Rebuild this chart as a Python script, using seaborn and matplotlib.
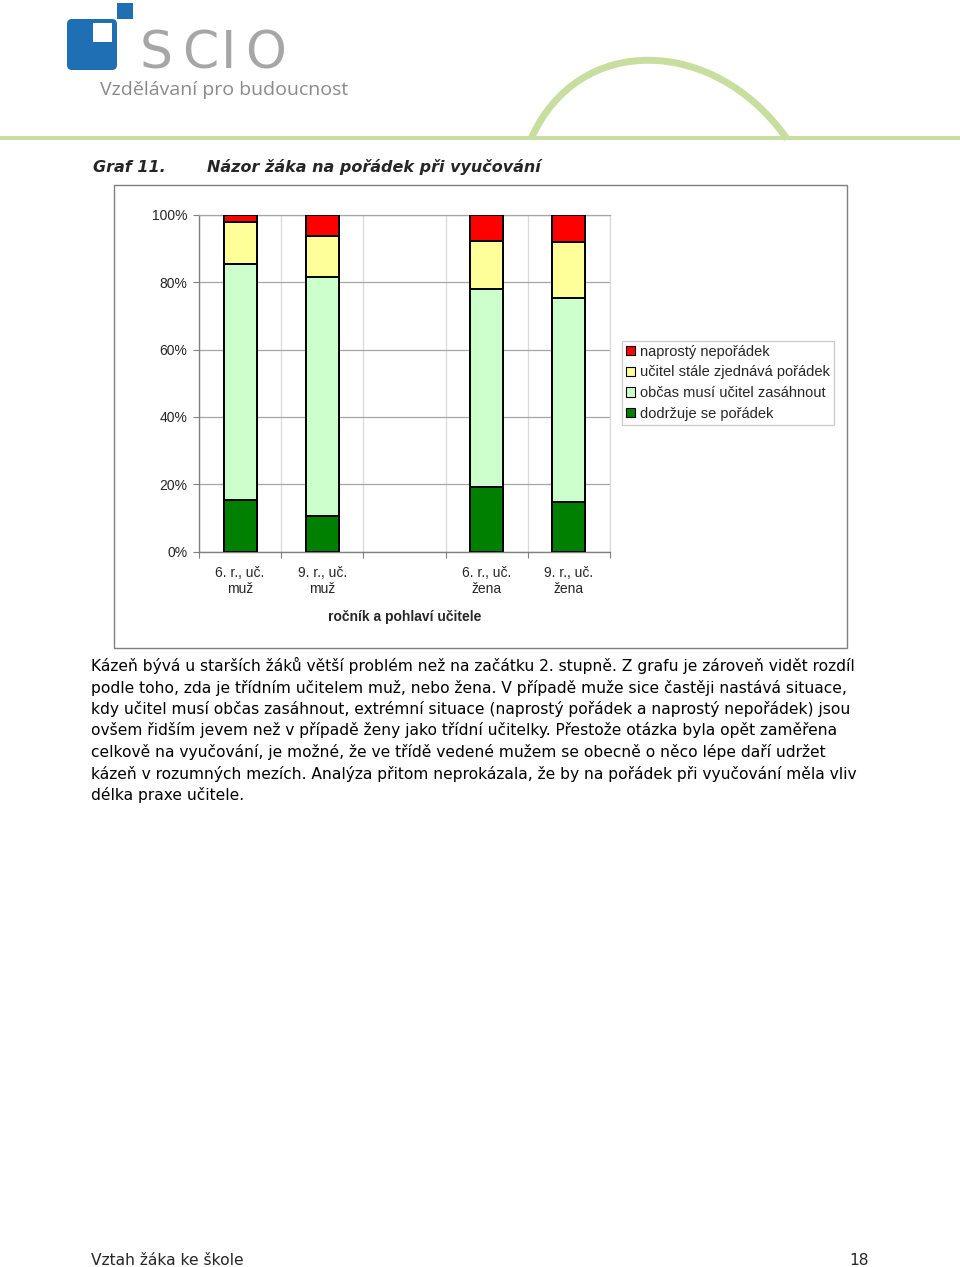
import matplotlib
matplotlib.use("Agg")
import matplotlib.pyplot as plt
import seaborn as sns
import pandas as pd
from matplotlib.patches import Rectangle, FancyBboxPatch, Patch, PathPatch
from matplotlib.path import Path

# ---------------- data ----------------
categories = ["6. r., uč.\nmuž", "9. r., uč.\nmuž", "", "6. r., uč.\nžena", "9. r., uč.\nžena"]
data_categories = ["6. r., uč.\nmuž", "9. r., uč.\nmuž", "6. r., uč.\nžena", "9. r., uč.\nžena"]
dodrzuje = [15.3, 10.7, 19.1, 14.8]
obcas = [70.0, 70.9, 58.9, 60.4]
ucitel = [12.5, 12.1, 14.3, 16.6]
naprosty = [2.2, 6.3, 7.7, 8.2]
series_names = ["naprostý nepořádek", "učitel stále zjednává pořádek",
                "občas musí učitel zasáhnout", "dodržuje se pořádek"]
series_colors = ["#FF0000", "#FFFF99", "#CCFFCC", "#008000"]
yticks = [0, 20, 40, 60, 80, 100]
ytick_labels = ["0%", "20%", "40%", "60%", "80%", "100%"]
x_label = "ročník a pohlaví učitele"
title_num = "Graf 11."
title_text = "Názor žáka na pořádek při vyučování"
body_lines = [
    "Kázeň bývá u starších žáků větší problém než na začátku 2. stupně. Z grafu je zároveň vidět rozdíl",
    "podle toho, zda je třídním učitelem muž, nebo žena. V případě muže sice častěji nastává situace,",
    "kdy učitel musí občas zasáhnout, extrémní situace (naprostý pořádek a naprostý nepořádek) jsou",
    "ovšem řidším jevem než v případě ženy jako třídní učitelky. Přestože otázka byla opět zaměřena",
    "celkově na vyučování, je možné, že ve třídě vedené mužem se obecně o něco lépe daří udržet",
    "kázeň v rozumných mezích. Analýza přitom neprokázala, že by na pořádek při vyučování měla vliv",
    "délka praxe učitele.",
]
footer_left = "Vztah žáka ke škole"
footer_right = "18"
logo_letters = ["S", "C", "I", "O"]
logo_tagline = "Vzdělávaní pro budoucnost"

# ---------------- figure ----------------
sns.set_theme(style="white")
plt.rcParams["font.family"] = ["Liberation Sans", "DejaVu Sans"]
W, H = 960, 1267
fig = plt.figure(figsize=(W / 100, H / 100), dpi=100)
fig.patch.set_facecolor("white")

# background/decoration axes in pixel coordinates
bg = fig.add_axes([0, 0, 1, 1], zorder=0)
bg.set_xlim(0, W)
bg.set_ylim(H, 0)
bg.axis("off")

# logo
blue = "#1E6FB4"
bg.add_patch(FancyBboxPatch((67, 19), 50, 51, boxstyle="round,pad=0,rounding_size=5",
                            facecolor=blue, edgecolor="none"))
bg.add_patch(Rectangle((93, 23), 19, 19, facecolor="white", edgecolor="none"))
bg.add_patch(Rectangle((117, 3), 16, 16, facecolor=blue, edgecolor="none"))
for letter, cx in zip(logo_letters, [156, 200, 229, 266]):
    bg.text(cx, 68.5, letter, fontsize=37.5, color="#A6A6A6", va="baseline", ha="center",
            family=["DejaVu Sans"])
bg.text(100, 95, logo_tagline, fontsize=14, color="#8A8A8A", va="baseline", ha="left",
        family=["Open Sans", "DejaVu Sans"])
green = "#C7DE9F"
bg.plot([0, W], [138, 138], color=green, lw=2.8, solid_capstyle="butt")
arc = Path([(531, 139), (578, 32), (715, 36), (787, 139)],
           [Path.MOVETO, Path.CURVE4, Path.CURVE4, Path.CURVE4])
bg.add_patch(PathPatch(arc, facecolor="none", edgecolor=green, lw=5))

# title
tfont = ["DejaVu Sans"]
bg.text(93, 172, title_num, fontsize=11.5, fontweight="bold", fontstyle="italic",
        family=tfont, va="baseline", ha="left")
bg.text(207, 172, title_text, fontsize=11.5, fontweight="bold", fontstyle="italic",
        family=tfont, va="baseline", ha="left")

# chart frame
bg.add_patch(Rectangle((113.5, 184.5), 733, 463, facecolor="white", edgecolor="#7F7F7F", lw=1.0))

# body text
bfont = ["DejaVu Sans"]
y0 = 671
for i, line in enumerate(body_lines):
    bg.text(91, y0 + i * 21.5, line, fontsize=11.2, family=bfont, va="baseline", ha="left",
            color="black")
bg.text(91, 1265, footer_left, fontsize=11.2, family=bfont, va="baseline", ha="left")
bg.text(869, 1265, footer_right, fontsize=11.2, family=bfont, va="baseline", ha="right")

# ---------------- chart ----------------
ax = fig.add_axes([199 / W, (H - 551.7) / H, 411 / W, 337 / H], zorder=2)
ax.set_facecolor("white")

df = pd.DataFrame({"kategorie": data_categories, "dodrzuje": dodrzuje, "obcas": obcas,
                   "ucitel": ucitel, "naprosty": naprosty})
df["c1"] = df["dodrzuje"]
df["c2"] = df["c1"] + df["obcas"]
df["c3"] = df["c2"] + df["ucitel"]
df["c4"] = df["c3"] + df["naprosty"]

for col, color in zip(["c4", "c3", "c2", "c1"], series_colors):
    sns.barplot(data=df, x="kategorie", y=col, order=categories, color=color,
                saturation=1, edgecolor="black", linewidth=1.4, width=0.4, ax=ax, zorder=3)

fs = 10
ax.set_xlim(-0.5, 4.5)
ax.set_ylim(0, 100)
ax.set_yticks(yticks)
ax.set_yticklabels(ytick_labels, fontsize=fs)
ax.set_xticks(range(len(categories)))
ax.set_xticklabels(categories, fontsize=fs, linespacing=1.2)
ax.set_xticks([-0.5, 0.5, 1.5, 2.5, 3.5, 4.5], minor=True)
ax.tick_params(axis="x", which="major", length=0, pad=10)
ax.tick_params(axis="x", which="minor", length=4.5, direction="out", color="#808080", width=0.8,
               bottom=True)
ax.tick_params(axis="y", which="major", length=4.5, direction="out", color="#808080", width=0.8,
               pad=4, left=True)
ax.set_xlabel(x_label, fontsize=fs, fontweight="bold", labelpad=10)
ax.set_ylabel("")
ax.grid(False)
ax.yaxis.grid(True, color="#A6A6A6", lw=0.9, zorder=0)
ax.xaxis.grid(True, which="minor", color="#D9D9D9", lw=0.9, zorder=0)
ax.set_axisbelow(True)
for side in ["left", "bottom"]:
    ax.spines[side].set_color("#808080")
    ax.spines[side].set_linewidth(1.0)
ax.spines["top"].set_color("#A6A6A6")
ax.spines["top"].set_linewidth(0.9)
ax.spines["right"].set_color("#D9D9D9")
ax.spines["right"].set_linewidth(0.9)

handles = [Patch(facecolor=c, edgecolor="black", lw=0.8) for c in series_colors]
leg = fig.legend(handles, series_names, loc="upper left",
                 bbox_to_anchor=(622 / W, 1 - 340.5 / H), bbox_transform=fig.transFigure,
                 fontsize=10.5, frameon=True, fancybox=False, borderaxespad=0,
                 handlelength=0.62, handleheight=0.62, handletextpad=0.3,
                 labelspacing=0.45, borderpad=0.3)
leg.get_frame().set_edgecolor("#BFBFBF")
leg.get_frame().set_linewidth(0.9)
leg.set_zorder(5)

fig.savefig("out.png", dpi=100, facecolor="white")
